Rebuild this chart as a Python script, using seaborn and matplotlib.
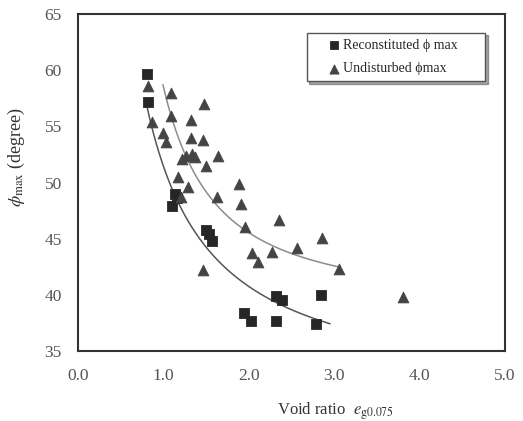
import numpy as np
import pandas as pd
import matplotlib
matplotlib.use("Agg")
import matplotlib.pyplot as plt
import seaborn as sns

# Reconstituted phi max (squares)
recon_e = [0.80, 0.82, 1.13, 1.16, 1.10, 1.49, 1.53, 1.56, 2.31, 2.39, 1.94, 2.02, 2.31, 2.84, 2.79]
recon_phi = [59.7, 57.2, 49.0, 48.6, 47.9, 45.8, 45.4, 44.8, 39.9, 39.5, 38.4, 37.7, 37.7, 40.0, 37.4]

# Undisturbed phi max (triangles)
und_e = [0.82, 1.09, 1.47, 0.86, 1.09, 1.32, 0.99, 1.03, 1.32, 1.46, 1.21, 1.26, 1.33, 1.37,
         1.64, 1.50, 1.17, 1.28, 1.88, 1.62, 1.20, 1.90, 2.35, 1.95, 2.56, 2.04, 2.27, 2.10,
         1.46, 2.86, 3.05, 3.81]
und_phi = [58.6, 58.0, 57.0, 55.4, 55.9, 55.6, 54.4, 53.6, 54.0, 53.8, 52.1, 52.4, 52.5, 52.3,
           52.4, 51.5, 50.5, 49.6, 49.9, 48.7, 48.7, 48.1, 46.7, 46.0, 44.2, 43.7, 43.8, 42.9,
           42.2, 45.1, 42.3, 39.8]

# Trend curves
recon_trend_e = [0.81, 0.88, 0.99, 1.11, 1.23, 1.42, 1.66, 1.89, 2.21, 2.52, 2.95]
recon_trend_phi = [56.7, 54.1, 51.4, 49.3, 47.5, 45.3, 43.1, 41.0, 39.2, 38.35, 38.0]
und_trend_e = [0.99, 1.11, 1.27, 1.43, 1.66, 1.93, 2.21, 2.56, 3.05]
und_trend_phi = [59.0, 55.0, 52.0, 49.9, 47.8, 46.1, 44.7, 43.5, 42.3]

x_ticks = [0.0, 1.0, 2.0, 3.0, 4.0, 5.0]
y_ticks = [35, 40, 45, 50, 55, 60, 65]

sns.set_style("white")
plt.rcParams['font.family'] = ['Liberation Serif', 'DejaVu Serif']
plt.rcParams['mathtext.fontset'] = 'stix'

fig = plt.figure(figsize=(5.23, 4.21), dpi=100)
ax = fig.add_axes([0.150, 0.1663, 0.8156, 0.8004])

df_r = pd.DataFrame({"e": recon_e, "phi": recon_phi})
df_u = pd.DataFrame({"e": und_e, "phi": und_phi})

# smooth trend lines: least-squares fit (quadratic in 1/e) through the read curve samples
def smooth(xs, ys, lo, hi):
    c = np.polyfit(1.0 / np.asarray(xs), ys, 2)
    xx = np.linspace(lo, hi, 150)
    return xx, np.polyval(c, 1.0 / xx)

xr, yr = smooth(recon_trend_e, recon_trend_phi, 0.80, recon_trend_e[-1])
xu, yu = smooth(und_trend_e, und_trend_phi, und_trend_e[0], und_trend_e[-1])
sns.lineplot(x=xr, y=yr, ax=ax, color="#555555", lw=1.1, legend=False)
sns.lineplot(x=xu, y=yu, ax=ax, color="#8c8c8c", lw=1.1, legend=False)

sns.scatterplot(data=df_r, x="e", y="phi", marker="s", s=55, color="#262626",
                edgecolor="#262626", ax=ax, label="Reconstituted \u03d5 max      ", zorder=3)
sns.scatterplot(data=df_u, x="e", y="phi", marker="^", s=60, color="#444444",
                edgecolor="#444444", ax=ax, label="Undisturbed \u03d5max", zorder=3)

ax.set_xlim(0, 5)
ax.set_ylim(35, 65)
ax.set_xticks(x_ticks)
ax.set_xticklabels([f"{v:.1f}" for v in x_ticks])
ax.set_yticks(y_ticks)
ax.tick_params(direction="in", length=3, width=1.2, labelsize=12.5, colors="#333333",
               labelcolor="#555555")
ax.tick_params(axis="y", pad=12)
ax.tick_params(axis="x", pad=12)
for sp in ax.spines.values():
    sp.set_linewidth(1.5)
    sp.set_color("#333333")

ax.set_xlabel(r"Void ratio  $e_{\mathrm{g0.075}}$", fontsize=12, color="#333333")
ax.xaxis.set_label_coords(0.603, -0.147)
ax.set_ylabel(r"$\phi_{\mathrm{max}}$ (degree)", fontsize=13, color="#333333")
ax.yaxis.set_label_coords(-0.121, 0.576)

leg = ax.legend(loc="upper left", bbox_to_anchor=(0.535, 0.945), frameon=True, fancybox=False,
                shadow=True, fontsize=10, handletextpad=-0.9, borderpad=0.45, labelspacing=0.75,
                handlelength=3.1, edgecolor="#555555", markerscale=0.85,
                borderaxespad=0)
leg.get_frame().set_linewidth(1.0)

fig.savefig("out.png", dpi=100)
